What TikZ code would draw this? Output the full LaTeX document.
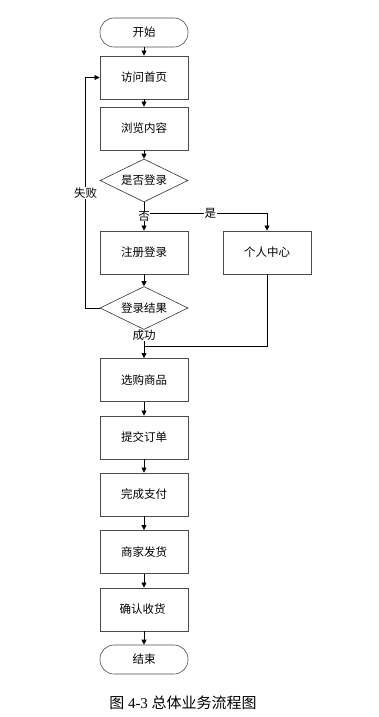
\documentclass[tikz,border=0pt]{standalone}
\usepackage{fontspec}
\setmainfont{Liberation Serif}
\newfontfamily\cjk{Noto Sans CJK SC}
\usetikzlibrary{shapes.geometric,arrows.meta,positioning}

\begin{document}
\begin{tikzpicture}[x=1pt,y=-1pt,
          every node/.style={align=center,font=\cjk\fontsize{11.5}{13}\selectfont},
          stepbox/.style={draw=black!70,line width=0.9pt,minimum width=88pt,
                          minimum height=43pt,inner sep=0pt},
          termbox/.style={draw=black!70,line width=0.6pt,rounded corners=14pt,
                          minimum width=88pt,minimum height=29pt,inner sep=0pt},
          choice/.style={diamond,aspect=2,draw=black!80,line width=0.6pt,
                         minimum width=88pt,minimum height=43pt,inner sep=0pt},
          arr/.style={-{Triangle[length=5pt,width=5pt]},line width=0.7pt,black},
          tag/.style={fill=white,inner sep=0.5pt}]
          \useasboundingbox (0,0) rectangle (378,717);
          % Start and end
          \node[termbox] (start) at (144,32.5) {开始};
          \node[termbox] (stop) at (144,659.5) {结束};
          % Login part
          \node[stepbox] (visit) at (144,77.5) {访问首页};
          \node[stepbox] (browse) at (144,128.5) {浏览内容};
          \node[choice] (islogin) at (144,180.5) {是否登录};
          \node[stepbox] (register) at (144,252.5) {注册登录};
          \node[stepbox] (profile) at (267,252.5) {个人中心};
          \node[choice] (result) at (144,308) {登录结果};
          % Shopping part
          \foreach \n/\y/\lbl in {
            choose/380/选购商品,
            submit/437.5/提交订单,
            pay/494.5/完成支付,
            ship/552/商家发货,
            confirm/609.5/确认收货
          }{
            \node[stepbox] (\n) at (144,\y) {\lbl};
          }
          \foreach \a/\b in {start/visit,visit/browse,browse/islogin,
                             islogin/register,register/result,
                             choose/submit,submit/pay,pay/ship,
                             ship/confirm,confirm/stop}
            \draw[arr] (\a) -- (\b);
          % Branches
          \coordinate (fork) at (144,213);
          \coordinate (merge) at (144,346);
          \draw[arr] (fork) -| node[tag,pos=0.27] (yes) {是} (profile);
          \node[tag] (no) at (144,216) {否};
          \draw[arr] (result.west) -- ++(-14,0)
            |- node[tag,pos=0.25] (fail) {失败} (visit.west);
          \draw[arr] (result) -- node[tag,pos=0.2] (ok) {成功} (choose);
          \draw[line width=0.7pt] (profile) |- (merge);
          \node[font=\fontsize{15}{17}\selectfont] (caption) at (183,703)
            {{\cjk 图} 4-3 {\cjk 总体业务流程图}};
        \end{tikzpicture}
\end{document}
